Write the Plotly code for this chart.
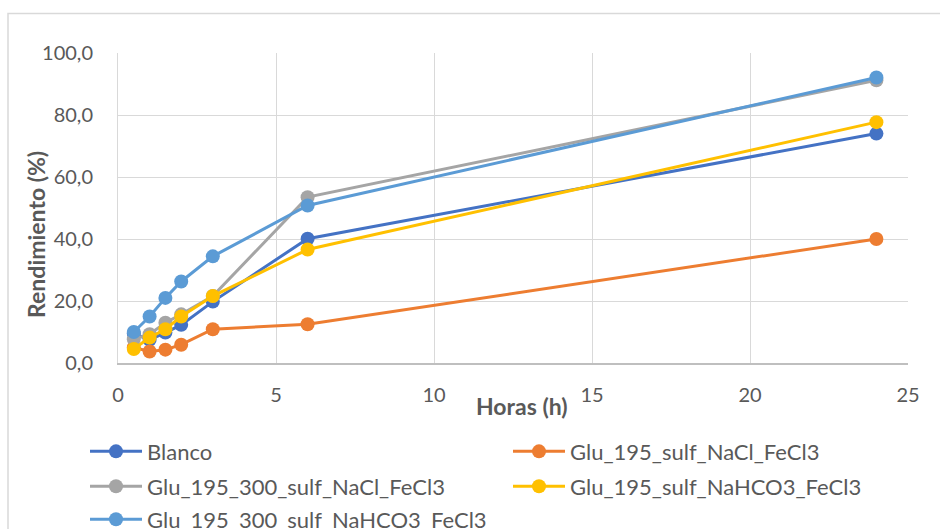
import plotly.graph_objects as go

horas = [0.5, 1, 1.5, 2, 3, 6, 24]
blanco = [9.5, 7.5, 9.8, 12.3, 19.8, 40.1, 74.0]
glu_nacl = [5.0, 3.7, 4.3, 5.9, 10.9, 12.5, 40.0]
glu_300_nacl = [7.7, 9.3, 13.0, 15.7, 21.6, 53.5, 91.2]
glu_nahco3 = [4.5, 8.2, 10.9, 15.0, 21.6, 36.6, 77.7]
glu_300_nahco3 = [10.0, 15.0, 21.0, 26.3, 34.4, 50.8, 92.1]

names = ["Blanco", "Glu_195_sulf_NaCl_FeCl3", "Glu_195_300_sulf_NaCl_FeCl3",
         "Glu_195_sulf_NaHCO3_FeCl3", "Glu_195_300_sulf_NaHCO3_FeCl3"]
series = [blanco, glu_nacl, glu_300_nacl, glu_nahco3, glu_300_nahco3]
colors = ["#4472C4", "#ED7D31", "#A5A5A5", "#FFC000", "#5B9BD5"]

FONT = "Lato"
TXT = "#595959"
FS = 20
LFS = 22

# plot area in pixels
L, R, T, B = 118, 908, 52.7, 363.3
PW, PH = R - L, B - T


def px_x(p):
    return (p - L) / PW


def px_y(p):
    return (B - p) / PH


# legend cell positions (left x, row centre y) in pixels
leg_cells = [(85, 452), (508, 452), (85, 487), (508, 487), (85, 520)]
leg_ids = ["legend", "legend2", "legend3", "legend4", "legend5"]

fig = go.Figure()
for n, s, c, lid in zip(names, series, colors, leg_ids):
    fig.add_trace(go.Scatter(x=horas, y=s, name=n, mode="lines+markers",
                             line=dict(color=c, width=3),
                             marker=dict(color=c, size=14),
                             legend=lid))

legend_layouts = {}
for lid, (lx, ly) in zip(leg_ids, leg_cells):
    legend_layouts[lid] = dict(orientation="h", x=px_x(lx), y=px_y(ly),
                               xanchor="left", yanchor="middle",
                               bgcolor="rgba(0,0,0,0)",
                               font=dict(family=FONT, size=LFS, color=TXT),
                               itemwidth=52)

fig.update_layout(
    width=940, height=529,
    margin=dict(l=L, r=940 - R, t=T, b=529 - B, autoexpand=False),
    paper_bgcolor="white", plot_bgcolor="white",
    separators=",.",
    font=dict(family=FONT, size=FS, color=TXT),
    showlegend=True,
    xaxis=dict(range=[0, 25], dtick=5, tick0=0, showgrid=True, gridcolor="#D9D9D9",
               gridwidth=1, zeroline=False, showline=True, linecolor="#BFBFBF",
               linewidth=1.5, ticks="", ticklabelstandoff=13,
               tickfont=dict(family=FONT, size=FS, color=TXT)),
    yaxis=dict(range=[0, 100], dtick=20, tick0=0, tickformat=".1f", showgrid=True,
               gridcolor="#D9D9D9", gridwidth=1, zeroline=False, showline=True,
               linecolor="#D9D9D9", linewidth=1, ticks="", ticklabelstandoff=20,
               tickfont=dict(family=FONT, size=FS, color=TXT)),
    annotations=[
        dict(text="<b>Horas (h)</b>", xref="paper", yref="paper", x=px_x(522), y=px_y(406),
             xanchor="center", yanchor="middle", showarrow=False,
             font=dict(family=FONT, size=23, color=TXT)),
        dict(text="<b>Rendimiento (%)</b>", xref="paper", yref="paper", x=px_x(36), y=px_y(235),
             xanchor="center", yanchor="middle", showarrow=False, textangle=-90,
             font=dict(family=FONT, size=23, color=TXT)),
    ],
    **legend_layouts,
)

# outer chart border
fig.add_shape(type="rect", xref="paper", yref="paper",
              x0=px_x(8), x1=px_x(960), y0=px_y(560), y1=px_y(13),
              line=dict(color="#D9D9D9", width=1.5), fillcolor="rgba(0,0,0,0)", layer="below")

fig.write_html("out.html")
